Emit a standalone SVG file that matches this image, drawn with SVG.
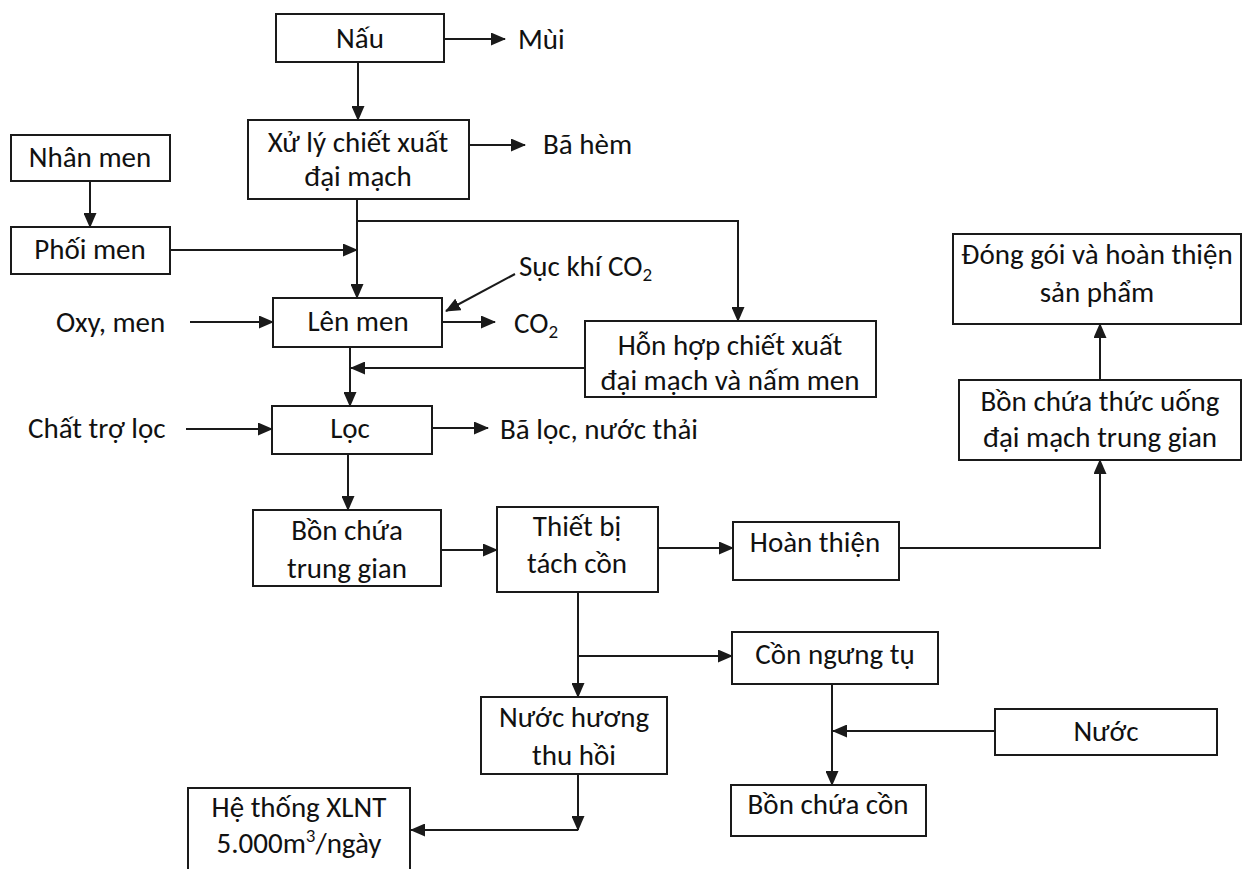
<svg xmlns="http://www.w3.org/2000/svg" width="1245" height="869" viewBox="0 0 1245 869">
  <style>
    .box { fill: #ffffff; stroke: #1a1a1a; stroke-width: 2; }
    .lbl { font-family: "Carlito", "Lato", "Noto Sans", sans-serif; font-size: 29px; fill: #111111; }
    .c { text-anchor: middle; }
    .wire { fill: none; stroke: #1a1a1a; stroke-width: 2; }
    .arr { marker-end: url(#head); }
  </style>
  <defs>
    <marker id="head" markerUnits="userSpaceOnUse" markerWidth="15" markerHeight="13" refX="14" refY="6.5" orient="auto">
      <path d="M0,0 L15,6.5 L0,13 Z" fill="#1a1a1a"/>
    </marker>
  </defs>
  <rect width="1245" height="869" fill="#ffffff"/>

  <!-- process boxes -->
  <g id="nau"><rect class="box" x="276" y="14" width="168" height="48"/><text class="lbl c" x="360" y="48">Nấu</text></g>
  <g id="xu-ly"><rect class="box" x="248" y="120" width="221" height="79"/><text class="lbl c" x="358" y="152">Xử lý chiết xuất</text><text class="lbl c" x="358" y="186">đại mạch</text></g>
  <g id="nhan-men"><rect class="box" x="11" y="135" width="159" height="46"/><text class="lbl c" x="90" y="167">Nhân men</text></g>
  <g id="phoi-men"><rect class="box" x="11" y="227" width="159" height="47"/><text class="lbl c" x="90" y="259">Phối men</text></g>
  <g id="len-men"><rect class="box" x="273" y="298" width="169" height="49"/><text class="lbl c" x="358" y="331">Lên men</text></g>
  <g id="hon-hop"><rect class="box" x="585" y="321" width="291" height="76"/><text class="lbl c" x="730" y="355">Hỗn hợp chiết xuất</text><text class="lbl c" x="730" y="390">đại mạch và nấm men</text></g>
  <g id="loc"><rect class="box" x="272" y="406" width="160" height="48"/><text class="lbl c" x="350" y="438">Lọc</text></g>
  <g id="bon-chua-tg"><rect class="box" x="253" y="510" width="188" height="76"/><text class="lbl c" x="347" y="540">Bồn chứa</text><text class="lbl c" x="347" y="578">trung gian</text></g>
  <g id="thiet-bi"><rect class="box" x="497" y="507" width="161" height="85"/><text class="lbl c" x="577" y="536">Thiết bị</text><text class="lbl c" x="577" y="573">tách cồn</text></g>
  <g id="hoan-thien"><rect class="box" x="733" y="522" width="166" height="58"/><text class="lbl c" x="815" y="552">Hoàn thiện</text></g>
  <g id="bon-chua-thuc-uong"><rect class="box" x="959" y="380" width="282" height="80"/><text class="lbl c" x="1100" y="411">Bồn chứa thức uống</text><text class="lbl c" x="1100" y="447">đại mạch trung gian</text></g>
  <g id="dong-goi"><rect class="box" x="953" y="234" width="288" height="90"/><text class="lbl c" x="1097" y="264">Đóng gói và hoàn thiện</text><text class="lbl c" x="1097" y="302">sản phẩm</text></g>
  <g id="con-ngung-tu"><rect class="box" x="732" y="632" width="206" height="52"/><text class="lbl c" x="835" y="664">Cồn ngưng tụ</text></g>
  <g id="nuoc-huong"><rect class="box" x="481" y="697" width="186" height="77"/><text class="lbl c" x="574" y="727">Nước hương</text><text class="lbl c" x="574" y="765">thu hồi</text></g>
  <g id="nuoc"><rect class="box" x="995" y="709" width="222" height="46"/><text class="lbl c" x="1106" y="741">Nước</text></g>
  <g id="bon-chua-con"><rect class="box" x="731" y="785" width="195" height="51"/><text class="lbl c" x="828" y="814">Bồn chứa cồn</text></g>
  <g id="xlnt"><rect class="box" x="188" y="788" width="222" height="100"/><text class="lbl c" x="299" y="817">Hệ thống XLNT</text><text class="lbl c" x="299" y="853">5.000m<tspan font-size="19" dy="-11">3</tspan><tspan dy="11">/ngày</tspan></text></g>

  <!-- free labels for inputs and outputs -->
  <g id="labels">
    <text class="lbl" x="518" y="49">Mùi</text>
    <text class="lbl" x="543" y="154">Bã hèm</text>
    <text class="lbl" x="519" y="276">Sục khí CO<tspan font-size="19" dy="5">2</tspan></text>
    <text class="lbl" x="56" y="332">Oxy, men</text>
    <text class="lbl" x="514" y="333">CO<tspan font-size="19" dy="5">2</tspan></text>
    <text class="lbl" x="28" y="438">Chất trợ lọc</text>
    <text class="lbl" x="500" y="439">Bã lọc, nước thải</text>
  </g>

  <!-- connectors -->
  <g id="connectors">
    <path class="wire arr" d="M444,39 H505"/>
    <path class="wire arr" d="M358,62 V120"/>
    <path class="wire arr" d="M469,145 H525"/>
    <path class="wire arr" d="M90,181 V227"/>
    <path class="wire arr" d="M170,250 H357"/>
    <path class="wire arr" d="M357,199 V298"/>
    <path class="wire arr" d="M357,221 H738 V321"/>
    <path class="wire arr" d="M515,274 L446,311"/>
    <path class="wire arr" d="M190,322 H273"/>
    <path class="wire arr" d="M442,322 H495"/>
    <path class="wire arr" d="M350,347 V406"/>
    <path class="wire arr" d="M585,368 H351"/>
    <path class="wire arr" d="M186,429 H272"/>
    <path class="wire arr" d="M432,428 H488"/>
    <path class="wire arr" d="M348,454 V510"/>
    <path class="wire arr" d="M441,550 H497"/>
    <path class="wire arr" d="M658,548 H733"/>
    <path class="wire arr" d="M899,548 H1100 V460"/>
    <path class="wire arr" d="M1100,380 V324"/>
    <path class="wire arr" d="M578,592 V697"/>
    <path class="wire arr" d="M578,656 H732"/>
    <path class="wire arr" d="M832,684 V785"/>
    <path class="wire arr" d="M995,731 H833"/>
    <path class="wire arr" d="M578,774 V830"/>
    <path class="wire arr" d="M578,830 H411"/>
  </g>
</svg>
